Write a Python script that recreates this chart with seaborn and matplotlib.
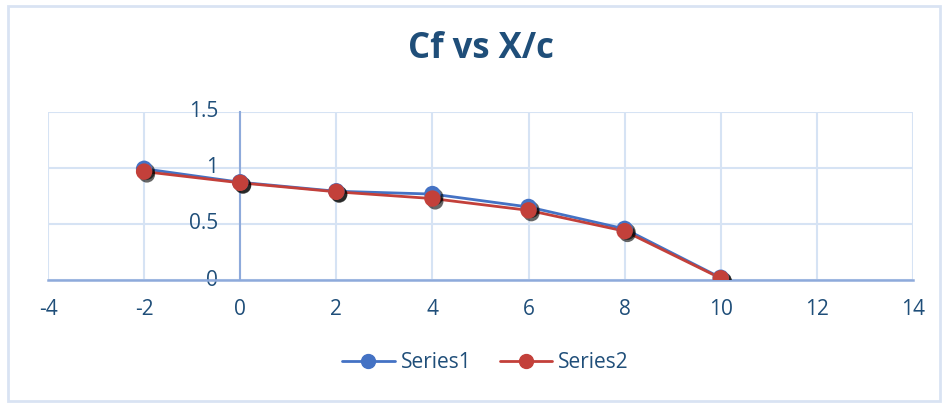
import matplotlib
matplotlib.use("Agg")
import matplotlib.pyplot as plt
import matplotlib.patheffects as pe
from matplotlib.patches import Rectangle
import seaborn as sns
import pandas as pd

x_values = [-2, 0, 2, 4, 6, 8, 10]
series1 = [0.99, 0.87, 0.79, 0.765, 0.65, 0.455, 0.02]
series2 = [0.965, 0.865, 0.785, 0.725, 0.62, 0.435, 0.015]
series_names = ["Series1", "Series2"]
title_text = "Cf vs X/c"
x_ticks = [-4, -2, 0, 2, 4, 6, 8, 10, 12, 14]
y_ticks = [0, 0.5, 1, 1.5]
y_tick_labels = ["0", "0.5", "1", "1.5"]

df = pd.DataFrame({
    "x": x_values * 2,
    "y": series1 + series2,
    "series": [series_names[0]] * len(x_values) + [series_names[1]] * len(x_values),
})

sns.set_theme(style="white")
plt.rcParams["font.family"] = ["Open Sans", "DejaVu Sans"]
text_color = "#1F4E79"
grid_color = "#D6E3F4"
axis_color = "#8EAADB"
colors = {"Series1": "#4472C4", "Series2": "#C3403A"}

fig = plt.figure(figsize=(9.46, 4.03), dpi=100)
fig.patches.append(Rectangle((8 / 946, 1 - 401 / 403), 932 / 946, 395 / 403,
                             transform=fig.transFigure, fill=False,
                             edgecolor="#D9E3F3", linewidth=2, zorder=0))
ax = fig.add_axes([48 / 946, 1 - 280 / 403, 865 / 946, 168.5 / 403])

sns.lineplot(data=df, x="x", y="y", hue="series", palette=colors,
             linewidth=2.0, ax=ax, legend=False, zorder=3)
shadow = [pe.SimplePatchShadow(offset=(2, -2), shadow_rgbFace="black", alpha=0.6), pe.Normal()]
sns.scatterplot(data=df, x="x", y="y", hue="series", palette=colors, s=140,
                linewidth=0, ax=ax, legend=False, zorder=4, path_effects=shadow)

ax.set_xlim(-4, 14)
ax.set_ylim(0, 1.5)
ax.set_xticks(x_ticks)
ax.set_xticklabels([str(t) for t in x_ticks])
ax.set_yticks(y_ticks)
ax.set_yticklabels(y_tick_labels)
ax.set_xlabel("")
ax.set_ylabel("")
ax.grid(True, color=grid_color, linewidth=1.5)
ax.set_axisbelow(True)

for s in ["top", "right"]:
    ax.spines[s].set_visible(False)
ax.spines["left"].set_position(("data", 0))
ax.spines["left"].set_color(axis_color)
ax.spines["left"].set_linewidth(1.5)
ax.spines["bottom"].set_color(axis_color)
ax.spines["bottom"].set_linewidth(1.8)
ax.tick_params(axis="both", length=0, labelsize=15, colors=text_color)
ax.tick_params(axis="x", pad=14)
ax.tick_params(axis="y", pad=16)
for lab in ax.get_yticklabels():
    lab.set_verticalalignment("center")

fig.text(480.5 / 946, 1 - 58 / 403, title_text, fontsize=25, fontweight="bold",
         color=text_color, ha="center", va="baseline")

handles = [plt.Line2D([], [], color=colors[n], marker="o", markersize=10, linewidth=2.0)
           for n in series_names]
leg = fig.legend(handles, series_names, loc="center", bbox_to_anchor=(485.5 / 946, 1 - 363 / 403),
                 ncol=2, frameon=False, fontsize=15, handlelength=2.5, columnspacing=1.35,
                 handletextpad=0.3)
for t in leg.get_texts():
    t.set_color(text_color)

fig.savefig("out.png", dpi=100)
